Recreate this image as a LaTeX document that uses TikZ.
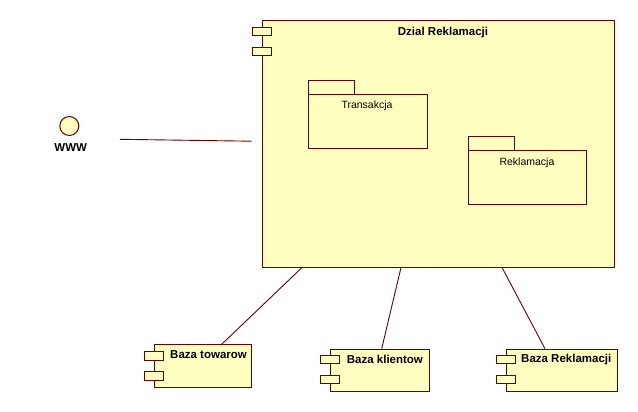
\documentclass[tikz,border=0pt]{standalone}
\usepackage{fontspec}
\setmainfont{Liberation Sans}
\usetikzlibrary{calc}
\definecolor{umlfill}{HTML}{FFFFC0}
\definecolor{umlline}{HTML}{6A0000}
\begin{document}
\begin{tikzpicture}[x=1pt,y=-1pt,
  box/.style={draw=umlline, fill=umlfill, line width=1pt, inner sep=0pt, anchor=north west},
  tabbox/.style={draw=umlline, fill=umlfill, line width=1pt},
  pkgbox/.style={draw=umlline, line width=1pt, inner sep=0pt, anchor=north west},
  pkgtab/.style={draw=umlline, line width=1pt},
  conn/.style={draw=umlline, line width=0.9pt},
  btitle/.style={font=\bfseries\fontsize{11.5}{13}\selectfont, inner sep=0pt},
  rtitle/.style={font=\fontsize{10.5}{12}\selectfont, inner sep=0pt}]
\useasboundingbox (0,0) rectangle (638,412);
% main component
\node[box, minimum width=352pt, minimum height=246pt] (main) at (262,20.5) {};
\draw[tabbox] (252.3,27.5) rectangle (271.7,35.7);
\draw[tabbox] (252.3,47.3) rectangle (271.7,55.7);
\node[btitle] (maintitle) at (443,32.5) {Dzial Reklamacji};
% packages
\draw[pkgtab] (308.3,80.3) rectangle (354.3,94.3);
\node[pkgbox, minimum width=118.4pt, minimum height=54pt] (trans) at (308.3,94.3) {};
\node[rtitle] (transt) at (367,106) {Transakcja};
\draw[pkgtab] (468.3,136.3) rectangle (514.3,150.3);
\node[pkgbox, minimum width=118pt, minimum height=54pt] (rekl) at (468.3,150.3) {};
\node[rtitle] (reklt) at (527,162.3) {Reklamacja};
% interface
\node[circle, draw=umlline, fill=umlfill, line width=1pt, minimum size=19pt, inner sep=0pt] (www) at (69.3,126) {};
\node[btitle] (wwwt) at (70.7,147.5) {WWW};
\coordinate (wa) at (120,139.3);
\coordinate (wb) at (251.7,141.2);
\draw[conn] (wa) -- (wb);
% bottom components
\node[box, minimum width=97pt, minimum height=42.7pt] (btow) at (154.3,344.3) {};
\draw[tabbox] (144.3,351.7) rectangle (163.3,360);
\draw[tabbox] (144.3,371.7) rectangle (163.3,380.3);
\node[btitle, anchor=west] (btowt) at (170,355) {Baza towarow};
\node[box, minimum width=99.3pt, minimum height=42.6pt] (bkl) at (330,348.7) {};
\draw[tabbox] (320.3,355) rectangle (339.3,363.3);
\draw[tabbox] (320.3,375) rectangle (339.3,383.7);
\node[btitle, anchor=west] (bklt) at (346.7,359.3) {Baza klientow};
\node[box, minimum width=111.3pt, minimum height=42.6pt] (brek) at (506,348.7) {};
\draw[tabbox] (496,355) rectangle (515.7,363.3);
\draw[tabbox] (496,375) rectangle (515.7,383.7);
\node[btitle, anchor=west] (brekt) at (521,359.3) {Baza Reklamacji};
% connectors
\draw[conn] ($(main.south west)+(40,0)$) -- ($(btow.north west)+(67.4,0)$);
\draw[conn] ($(main.south west)+(139,0)$) -- ($(bkl.north west)+(51.7,0)$);
\draw[conn] ($(main.south west)+(240,0)$) -- ($(brek.north west)+(39,0)$);
\end{tikzpicture}
\end{document}
